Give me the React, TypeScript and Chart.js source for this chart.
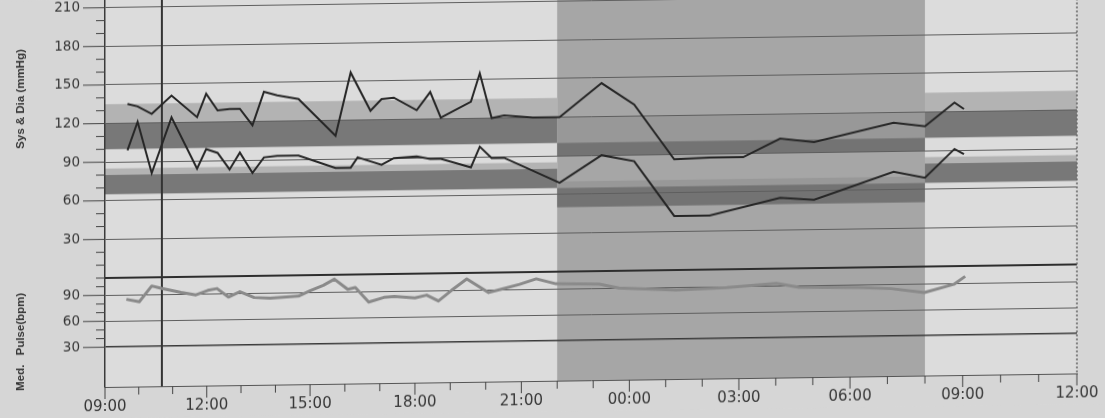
import React, { useEffect, useRef } from "react";
import { Chart, LinearScale, registerables } from "chart.js";

// ---------------- data ----------------
const xTickLabels = ["09:00", "12:00", "15:00", "18:00", "21:00", "00:00", "03:00", "06:00", "09:00", "12:00"];
const bpLabelValues = [30, 60, 90, 120, 150, 180, 210];
const pulseLabelValues = [30, 60, 90];

const sysTimes = ["09:40", "09:58", "10:23", "10:58", "11:43", "11:59", "12:19", "12:40", "12:58", "13:20", "13:40", "14:03", "14:40", "15:44", "16:10", "16:44", "17:03", "17:24", "18:03", "18:26", "18:44", "19:35", "19:50", "20:10", "20:31", "21:19", "22:04", "23:14", "00:08", "01:14", "02:12", "03:07", "04:07", "05:02", "07:10", "08:00", "08:47", "09:02"];
const sysValues = [135, 133, 127, 141, 124, 142, 129, 130, 130, 117, 143, 140, 137, 108, 157, 127, 136, 137, 127, 141, 121, 133, 155, 120, 122, 120, 120, 146, 129, 86, 87, 87, 101, 98, 112, 109, 127, 122];

const diaTimes = ["09:40", "09:58", "10:23", "10:58", "11:43", "11:59", "12:19", "12:40", "12:58", "13:20", "13:40", "14:03", "14:40", "15:44", "16:10", "16:22", "17:03", "17:24", "18:03", "18:26", "18:44", "19:35", "19:50", "20:10", "20:31", "22:04", "23:14", "00:08", "01:14", "02:12", "04:07", "05:02", "07:10", "08:00", "08:47", "09:02"];
const diaValues = [99, 121, 81, 124, 84, 99, 96, 83, 96, 80, 92, 93, 93, 83, 83, 91, 85, 90, 91, 89, 89, 82, 98, 89, 89, 69, 90, 85, 42, 42, 55, 53, 74, 69, 91, 87];

const pulseTimes = ["09:38", "10:01", "10:23", "10:41", "11:15", "11:41", "12:02", "12:18", "12:38", "12:58", "13:23", "13:51", "14:40", "15:00", "15:23", "15:42", "16:05", "16:18", "16:41", "17:07", "17:25", "18:00", "18:20", "18:40", "19:02", "19:28", "20:05", "20:28", "20:57", "21:25", "21:58", "23:10", "23:43", "01:17", "02:40", "04:01", "04:38", "06:14", "07:06", "07:59", "08:46", "09:04"];
const pulseValues = [85, 82, 100, 97, 92, 89, 94, 96, 86, 92, 85, 84, 86, 92, 98, 105, 93, 95, 78, 83, 84, 82, 85, 78, 90, 103, 87, 91, 96, 102, 96, 95, 90, 87, 89, 93, 88, 87, 85, 80, 89, 98];

const nightStart = "22:00";
const nightEnd = "08:00";
const markerTime = "10:41";

const daySysNormal = [100, 120];
const daySysBorder = [120, 135];
const dayDiaNormal = [65, 80];
const dayDiaBorder = [80, 85];
const nightSysNormal = [90, 100];
const nightSysBorder = [100, 120];
const nightDiaNormal = [50, 65];
const nightDiaBorder = [65, 70];

// ---------------- axis setup ----------------
const AXIS_START_HOUR = 9;
const AXIS_SPAN_HOURS = 27;
const BP_MIN = 0;
const BP_MAX = 216;
const HR_MIN = -16;
const HR_MAX = 110;
// the photographed page is slightly bent: the time axis is compressed on the left
const PAGE_WARP = -0.065;

const PAPER = "#d6d6d6";
const DAY_BG = "#dcdcdc";
const NIGHT_BG = "#a6a6a6";
const DAY_LIGHT = "#b3b3b3";
const DAY_DARK = "#787878";
const NIGHT_LIGHT = "#989898";
const NIGHT_DARK = "#737373";
const TEXT = "#363636";

class WarpedLinearScale extends (LinearScale as any) {
  static id = "warpedLinear";
  static defaults = (LinearScale as any).defaults;
  getPixelForValue(value: number) {
    if (value === null || value === undefined) return NaN;
    const self = this as any;
    const u = (value - self._startValue) / self._valueRange;
    return self.getPixelForDecimal(u + PAGE_WARP * u * (1 - u));
  }
  getValueForPixel(pixel: number) {
    const self = this as any;
    const w = self.getDecimalForPixel(pixel);
    const k = PAGE_WARP;
    const u = Math.abs(k) < 1e-9 ? w : ((1 + k) - Math.sqrt((1 + k) * (1 + k) - 4 * k * w)) / (2 * k);
    return self._startValue + u * self._valueRange;
  }
}

Chart.register(...registerables, WarpedLinearScale as any);

function toHours(list: string[]): number[] {
  let prev = -Infinity;
  return list.map((t) => {
    const [h, m] = t.split(":").map(Number);
    let v = h + m / 60 - AXIS_START_HOUR;
    if (v < 0) v += 24;
    while (v < prev - 1e-6) v += 24;
    prev = v;
    return v;
  });
}

function points(times: string[], values: number[]) {
  const hs = toHours(times);
  return hs.map((x, i) => ({ x, y: values[i] }));
}

function stepList(a: number, b: number, s: number) {
  const out: number[] = [];
  for (let v = a; v <= b + 1e-9; v += s) out.push(v);
  return out;
}

const abpmPlugin = {
  id: "abpm",
  beforeDraw(chart: any) {
    const { ctx, chartArea: a, scales } = chart;
    const x = scales.x;
    const bp = scales.yBP;
    const [ns, ne] = toHours([nightStart, nightEnd]);
    const xs = x.getPixelForValue(ns);
    const xe = x.getPixelForValue(ne);
    ctx.save();
    ctx.fillStyle = PAPER;
    ctx.fillRect(0, 0, chart.width, chart.height);
    ctx.fillStyle = DAY_BG;
    ctx.fillRect(a.left, a.top, a.right - a.left, a.bottom - a.top);
    ctx.fillStyle = NIGHT_BG;
    ctx.fillRect(xs, a.top, xe - xs, a.bottom - a.top);
    const band = (x0: number, x1: number, r: number[], color: string) => {
      const y0 = bp.getPixelForValue(r[1]);
      const y1 = bp.getPixelForValue(r[0]);
      ctx.fillStyle = color;
      ctx.fillRect(x0, y0, x1 - x0, y1 - y0);
    };
    for (const [x0, x1] of [[a.left, xs], [xe, a.right]]) {
      band(x0, x1, daySysBorder, DAY_LIGHT);
      band(x0, x1, daySysNormal, DAY_DARK);
      band(x0, x1, dayDiaBorder, DAY_LIGHT);
      band(x0, x1, dayDiaNormal, DAY_DARK);
    }
    band(xs, xe, nightSysBorder, NIGHT_LIGHT);
    band(xs, xe, nightSysNormal, NIGHT_DARK);
    band(xs, xe, nightDiaBorder, NIGHT_LIGHT);
    band(xs, xe, nightDiaNormal, NIGHT_DARK);
    ctx.restore();
  },
  beforeDatasetsDraw(chart: any) {
    const { ctx, chartArea: a, scales } = chart;
    const hr = scales.yHR;
    const x = scales.x;
    const line = (x0: number, y0: number, x1: number, y1: number) => {
      ctx.beginPath();
      ctx.moveTo(x0, y0);
      ctx.lineTo(x1, y1);
      ctx.stroke();
    };
    ctx.save();
    // separator between the two panels
    const ySep = hr.getPixelForValue(HR_MAX);
    ctx.strokeStyle = "#2e2e2e";
    ctx.lineWidth = 2;
    line(a.left, ySep, a.right, ySep);
    // cursor line
    const xm = x.getPixelForValue(toHours([markerTime])[0]);
    ctx.strokeStyle = "#333333";
    ctx.lineWidth = 2;
    line(xm, a.top, xm, a.bottom);
    // x tick marks (hourly, longer every 3 h)
    ctx.strokeStyle = "#444444";
    ctx.lineWidth = 1;
    stepList(0, AXIS_SPAN_HOURS, 1).forEach((h) => {
      const px = x.getPixelForValue(h);
      line(px, a.bottom, px, a.bottom + (h % 3 === 0 ? 12 : 8));
    });
    // dotted right border
    ctx.setLineDash([2, 2]);
    ctx.lineWidth = 1.5;
    ctx.strokeStyle = "#666666";
    line(a.right, a.top, a.right, a.bottom);
    ctx.restore();
  },
  afterDraw(chart: any) {
    const { ctx, chartArea: a, scales } = chart;
    const bp = scales.yBP;
    const hr = scales.yHR;
    ctx.save();
    ctx.strokeStyle = "#444444";
    ctx.lineWidth = 1;
    const mark = (y: number, len: number) => {
      ctx.beginPath();
      ctx.moveTo(a.left - len, y);
      ctx.lineTo(a.left, y);
      ctx.stroke();
    };
    stepList(10, 210, 10).forEach((v) => mark(bp.getPixelForValue(v), bpLabelValues.includes(v) ? 22 : 9));
    stepList(30, 110, 10).forEach((v) => mark(hr.getPixelForValue(v), pulseLabelValues.includes(v) ? 22 : 9));

    ctx.fillStyle = TEXT;
    ctx.font = '13.5px "DejaVu Sans"';
    ctx.textAlign = "right";
    ctx.textBaseline = "middle";
    bpLabelValues.forEach((v) => ctx.fillText(String(v), a.left - 25, bp.getPixelForValue(v)));
    pulseLabelValues.forEach((v) => ctx.fillText(String(v), a.left - 25, hr.getPixelForValue(v)));

    ctx.font = 'bold 11.5px "Liberation Sans"';
    ctx.textAlign = "center";
    const vtext = (t: string, x: number, y: number) => {
      ctx.save();
      ctx.translate(x, y);
      ctx.rotate(-Math.PI / 2);
      ctx.fillText(t, 0, 0);
      ctx.restore();
    };
    vtext("Sys & Dia (mmHg)", 21, bp.getPixelForValue(140));
    vtext("Pulse(bpm)", 21, hr.getPixelForValue(58));
    vtext("Med.", 21, hr.getPixelForValue(-4));
    ctx.restore();
  },
};

export default function App() {
  const ref = useRef<HTMLCanvasElement | null>(null);

  useEffect(() => {
    if (!ref.current) return;
    const chart = new Chart(ref.current, {
      type: "line",
      data: {
        datasets: [
          {
            label: "Sys",
            data: points(sysTimes, sysValues),
            yAxisID: "yBP",
            borderColor: "#262626",
            borderWidth: 2,
            pointRadius: 0,
            tension: 0,
          },
          {
            label: "Dia",
            data: points(diaTimes, diaValues),
            yAxisID: "yBP",
            borderColor: "#262626",
            borderWidth: 2,
            pointRadius: 0,
            tension: 0,
          },
          {
            label: "Med. Pulse",
            data: points(pulseTimes, pulseValues),
            yAxisID: "yHR",
            borderColor: "#8a8a8a",
            borderWidth: 3,
            pointRadius: 0,
            tension: 0,
            borderJoinStyle: "round",
          },
        ],
      },
      options: {
        animation: false,
        responsive: false,
        maintainAspectRatio: false,
        devicePixelRatio: 1,
        layout: { padding: { left: 0, right: 28, top: 0, bottom: 0 } },
        plugins: { legend: { display: false }, tooltip: { enabled: false } },
        scales: {
          x: {
            type: "warpedLinear",
            min: 0,
            max: AXIS_SPAN_HOURS,
            afterBuildTicks: (s: any) => {
              s.ticks = stepList(0, AXIS_SPAN_HOURS, 1).map((value) => ({ value }));
            },
            afterFit: (s: any) => {
              s.height = 31;
            },
            ticks: {
              autoSkip: false,
              maxRotation: 0,
              minRotation: 0,
              padding: 1,
              color: TEXT,
              font: { family: "DejaVu Sans", size: 15 },
              callback: (v: any) => (Math.round(v) % 3 === 0 ? xTickLabels[Math.round(v) / 3] : ""),
            },
            grid: { drawOnChartArea: false, drawTicks: true, tickLength: 10, tickColor: "rgba(0,0,0,0)" },
            border: { color: "#555555", width: 1 },
          },
          yHR: {
            type: "linear",
            position: "left",
            stack: "panels",
            stackWeight: 109,
            min: HR_MIN,
            max: HR_MAX,
            afterBuildTicks: (s: any) => {
              s.ticks = stepList(30, 110, 10).map((value) => ({ value }));
            },
            afterFit: (s: any) => {
              s.width = 105;
            },
            ticks: { display: false },
            grid: {
              drawTicks: false,
              color: (c: any) => {
                const v = c.tick ? c.tick.value : -1;
                if (v === 30) return "#3a3a3a";
                if (v === 60 || v === 90) return "#5e5e5e";
                return "rgba(0,0,0,0)";
              },
              lineWidth: (c: any) => (c.tick && c.tick.value === 30 ? 1.6 : 1),
            },
            border: { color: "#3a3a3a", width: 1.5 },
          },
          yBP: {
            type: "linear",
            position: "left",
            stack: "panels",
            stackWeight: 278,
            min: BP_MIN,
            max: BP_MAX,
            afterBuildTicks: (s: any) => {
              s.ticks = stepList(0, 210, 10).map((value) => ({ value }));
            },
            afterFit: (s: any) => {
              s.width = 105;
            },
            ticks: { display: false },
            grid: {
              drawTicks: false,
              color: (c: any) => {
                const v = c.tick ? c.tick.value : -1;
                return v > 0 && v % 30 === 0 ? "#5e5e5e" : "rgba(0,0,0,0)";
              },
              lineWidth: 1,
            },
            border: { color: "#3a3a3a", width: 1.5 },
          },
        },
      } as any,
      plugins: [abpmPlugin],
    });
    return () => chart.destroy();
  }, []);

  return (
    <div
      style={{
        position: "absolute",
        left: 0,
        top: 0,
        width: 1105,
        height: 418,
        overflow: "hidden",
        background: PAPER,
      }}
    >
      <canvas
        ref={ref}
        width={1105}
        height={418}
        style={{
          display: "block",
          width: 1105,
          height: 418,
          transform: "skewY(-0.8deg)",
          transformOrigin: "105px 0px",
        }}
      />
    </div>
  );
}
